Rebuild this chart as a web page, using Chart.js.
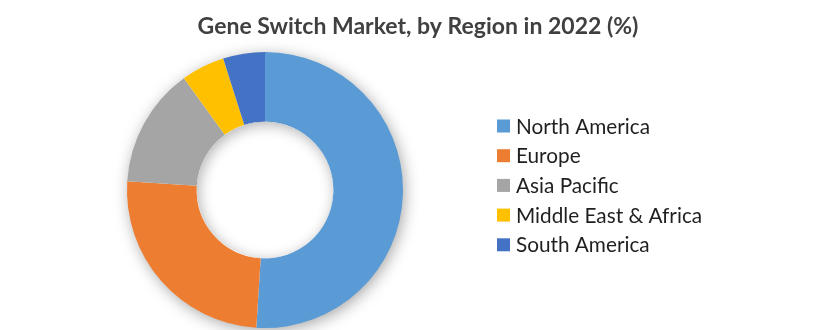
<!DOCTYPE html>
<html>
<head>
<meta charset="utf-8">
<script src="https://cdn.jsdelivr.net/npm/chart.js@4/dist/chart.umd.min.js"></script>
<style>
html,body{margin:0;padding:0;background:#fff;}
#wrap{width:829px;height:330px;position:relative;}
</style>
</head>
<body>
<div id="wrap"><canvas id="c" width="829" height="330"></canvas></div>
<script>
const titleText = "Gene Switch Market, by Region in 2022 (%)";
const categories = ["North America", "Europe", "Asia Pacific", "Middle East & Africa", "South America"];
const shares = [51, 25, 14, 5.1, 4.9];
const colors = ["#5B9BD5", "#ED7D31", "#A5A5A5", "#FFC000", "#4472C4"];

function fitFont(ctx, text, weight, family, targetW) {
  let size = 10;
  for (let s = 10; s <= 40; s += 0.25) {
    ctx.font = weight + " " + s + "px " + family;
    if (ctx.measureText(text).width > targetW) break;
    size = s;
  }
  return size;
}

const shadowPlugin = {
  id: 'ringShadow',
  beforeDatasetsDraw(chart) {
    const arc = chart.getDatasetMeta(0).data[0];
    if (!arc) return;
    const ctx = chart.ctx;
    ctx.save();
    ctx.shadowColor = 'rgba(0,0,0,0.38)';
    ctx.shadowBlur = 16;
    ctx.shadowOffsetX = 2;
    ctx.shadowOffsetY = 3;
    ctx.fillStyle = '#ffffff';
    ctx.beginPath();
    ctx.arc(arc.x, arc.y, arc.outerRadius - 1, 0, Math.PI * 2);
    ctx.fill();
    ctx.restore();
  },
  afterDatasetsDraw(chart) {
    const arc = chart.getDatasetMeta(0).data[0];
    if (!arc) return;
    const ctx = chart.ctx;
    ctx.save();
    ctx.beginPath();
    ctx.arc(arc.x, arc.y, arc.innerRadius, 0, Math.PI * 2);
    ctx.clip();
    ctx.shadowColor = 'rgba(0,0,0,0.3)';
    ctx.shadowBlur = 14;
    ctx.shadowOffsetX = 2;
    ctx.shadowOffsetY = 3;
    ctx.fillStyle = '#ffffff';
    ctx.beginPath();
    ctx.arc(arc.x, arc.y, arc.innerRadius + 40, 0, Math.PI * 2);
    ctx.arc(arc.x, arc.y, arc.innerRadius, 0, Math.PI * 2, true);
    ctx.fill();
    ctx.restore();
  }
};

const textPlugin = {
  id: 'titleLegend',
  afterDraw(chart) {
    const ctx = chart.ctx;
    ctx.save();
    const tFam = "Lato, 'Open Sans', sans-serif";
    const ts = fitFont(ctx, titleText, "bold", tFam, 444);
    ctx.font = "bold " + ts + "px " + tFam;
    ctx.fillStyle = "#404040";
    ctx.textAlign = "center";
    ctx.textBaseline = "middle";
    ctx.fillText(titleText, 418, 27);
    const lFam = "Lato, 'Open Sans', sans-serif";
    const ls = fitFont(ctx, "Middle East & Africa", "normal", lFam, 188);
    ctx.font = ls + "px " + lFam;
    ctx.textAlign = "left";
    const ds = chart.data.datasets[0];
    chart.data.labels.forEach((lab, i) => {
      const y = 126 + i * 29.7;
      ctx.fillStyle = ds.backgroundColor[i];
      ctx.fillRect(497, y - 6.5, 13, 13);
      ctx.fillStyle = "#1f1f1f";
      ctx.fillText(lab, 516, y + 1);
    });
    ctx.restore();
  }
};

new Chart(document.getElementById('c'), {
  type: 'doughnut',
  data: {
    labels: categories,
    datasets: [{
      data: shares,
      backgroundColor: colors,
      borderWidth: 0
    }]
  },
  options: {
    responsive: false,
    animation: false,
    cutout: '49.5%',
    layout: { padding: { left: 127, right: 426, top: 52, bottom: 2 } },
    plugins: {
      legend: { display: false },
      title: { display: false },
      tooltip: { enabled: false }
    }
  },
  plugins: [shadowPlugin, textPlugin]
});
</script>
</body>
</html>
